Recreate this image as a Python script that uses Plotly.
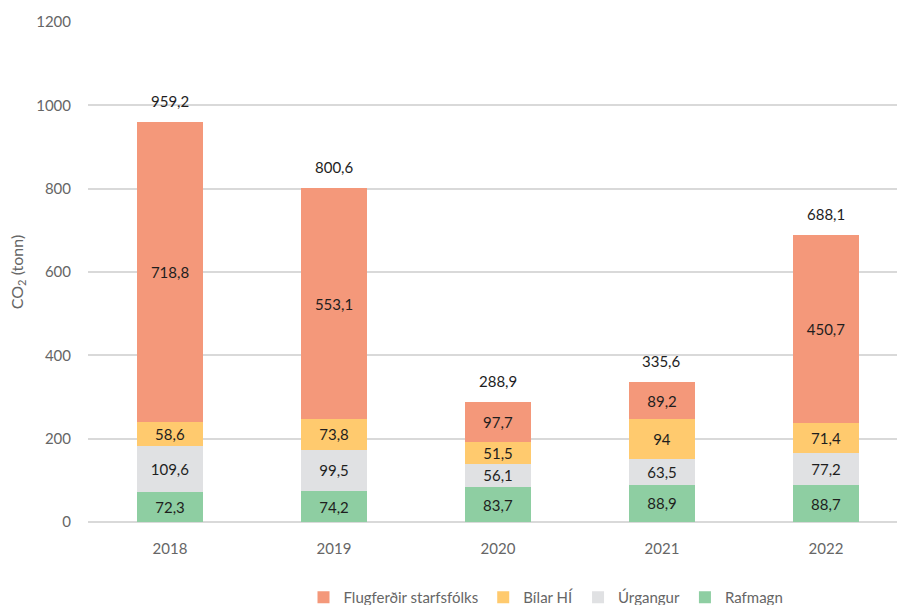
import plotly.graph_objects as go

years = ["2018", "2019", "2020", "2021", "2022"]
rafmagn = [72.3, 74.2, 83.7, 88.9, 88.7]
urgangur = [109.6, 99.5, 56.1, 63.5, 77.2]
bilar = [58.6, 73.8, 51.5, 94, 71.4]
flug = [718.8, 553.1, 97.7, 89.2, 450.7]
totals = [959.2, 800.6, 288.9, 335.6, 688.1]
y_ticks = [0, 200, 400, 600, 800, 1000, 1200]

def fmt(v):
    return f"{v:g}".replace(".", ",")

series = [
    ("Rafmagn", rafmagn, "#8ECEA2"),
    ("Úrgangur", urgangur, "#E0E1E3"),
    ("Bílar HÍ", bilar, "#FFCA6E"),
    ("Flugferðir starfsfólks", flug, "#F4987A"),
]

FONT = "Lato, 'Open Sans', sans-serif"
fig = go.Figure()
for name, vals, col in series:
    fig.add_trace(go.Bar(
        x=years, y=vals, name=name, marker=dict(color=col, line=dict(width=0)),
        text=[fmt(v) for v in vals], textposition="inside", insidetextanchor="middle",
        constraintext="none",
        textfont=dict(color="#1E1E1E", size=15, family=FONT), width=0.4,
        hoverinfo="skip",
    ))

for i, t in enumerate(totals):
    fig.add_annotation(x=i, y=t, xref="x", yref="y", text=fmt(t), showarrow=False,
                       yanchor="bottom", yshift=10,
                       font=dict(color="#1E1E1E", size=15, family=FONT))

fig.update_layout(
    barmode="stack",
    width=897, height=605,
    margin=dict(l=88, r=0, t=22, b=83, autoexpand=False),
    plot_bgcolor="white", paper_bgcolor="white",
    font=dict(family=FONT, color="#666666", size=14),
    showlegend=True,
    legend=dict(orientation="h", x=546 / 897, xanchor="center", xref="container",
                y=1 - 581 / 605, yanchor="top", yref="container",
                traceorder="reversed", font=dict(size=15, color="#666666")),
    xaxis=dict(type="category", range=[-0.5, 4.433], showgrid=False, showline=False,
               ticks="", ticklabelstandoff=16, automargin=False,
               tickfont=dict(size=15, color="#666666")),
    yaxis=dict(range=[0, 1200], tickvals=y_ticks, showgrid=True, gridcolor="#D9D9D9",
               gridwidth=1.5, zeroline=True, zerolinecolor="#D9D9D9", zerolinewidth=1.5,
               ticks="", ticklabelstandoff=16, automargin=False,
               tickfont=dict(size=15, color="#666666"),
               title=dict(text="CO<sub>2</sub> (tonn)", standoff=8,
                          font=dict(size=16, color="#666666"))),
)

fig.write_html("out.html", config={"displayModeBar": False},
               post_script="document.body.style.margin='0';document.body.style.overflow='hidden';")
